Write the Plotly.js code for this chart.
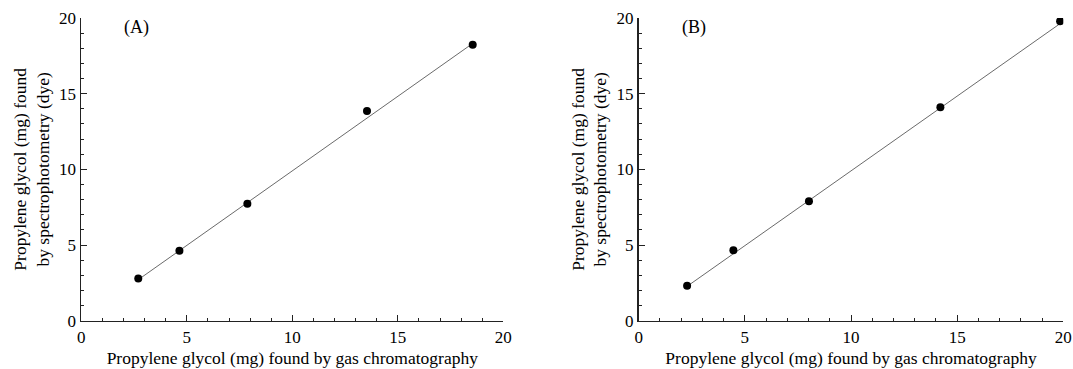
<!DOCTYPE html>
<html>
<head>
<meta charset="utf-8">
<script src="https://cdn.plot.ly/plotly-3.0.1.min.js"></script>
<style>
html,body{margin:0;padding:0;background:#fff;}
#chart{width:1073px;height:369px;}
</style>
</head>
<body>
<div id="chart"></div>
<script>
// Panel A data (gas chromatography vs spectrophotometry)
var xA = [2.70, 4.65, 7.87, 13.54, 18.55];
var yA = [2.79, 4.62, 7.72, 13.86, 18.24];
// Panel A regression line endpoints
var fitAx = [2.70, 18.55];
var fitAy = [2.71, 18.32];
// Panel B data
var xB = [2.28, 4.46, 8.02, 14.21, 19.85];
var yB = [2.31, 4.66, 7.90, 14.10, 19.79];
var fitBx = [2.28, 19.85];
var fitBy = [2.27, 19.63];

var panelLabels = ["(A)", "(B)"];
var equations = ["Y = 0.985X + 0.053    (r = 0.999)", "Y = 0.988X + 0.017    (r = 0.999)"];
var xTitle = "Propylene glycol (mg) found by gas chromatography";
var yTitle = "Propylene glycol (mg) found<br>by spectrophotometry (dye)";
var tickVals = [0, 5, 10, 15, 20];
var tickText = ["0", "5", "10", "15", "20"];

var FONT = "Liberation Serif";

function lineTrace(x, y, xa, ya) {
  return {x: x, y: y, xaxis: xa, yaxis: ya, type: 'scatter', mode: 'lines',
    line: {color: '#444', width: 0.8}, hoverinfo: 'skip', showlegend: false};
}
function ptTrace(x, y, xa, ya) {
  return {x: x, y: y, xaxis: xa, yaxis: ya, type: 'scatter', mode: 'markers',
    marker: {color: '#000', size: 8}, showlegend: false};
}

var data = [
  lineTrace(fitAx, fitAy, 'x', 'y'),
  ptTrace(xA, yA, 'x', 'y'),
  lineTrace(fitBx, fitBy, 'x2', 'y2'),
  ptTrace(xB, yB, 'x2', 'y2')
];

function xaxis(domain, anchor) {
  return {
    domain: domain, anchor: anchor, range: [0, 20],
    tickvals: tickVals, ticktext: tickText,
    ticks: 'inside', ticklen: 6, tickwidth: 1, tickcolor: '#222',
    minor: {dtick: 1, ticks: 'inside', ticklen: 3, tickwidth: 1, tickcolor: '#222', showgrid: false},
    showline: true, linecolor: '#222', linewidth: 1.5, mirror: false,
    showgrid: false, zeroline: false,
    tickfont: {family: FONT, size: 17, color: '#000'},
    title: {text: xTitle, font: {family: FONT, size: 17.5, color: '#000'}, standoff: 6},
    automargin: false
  };
}
function yaxis(domain, anchor) {
  return {
    domain: domain, anchor: anchor, range: [0, 20],
    tickvals: tickVals, ticktext: tickText,
    ticks: 'inside', ticklen: 6, tickwidth: 1, tickcolor: '#222',
    minor: {dtick: 1, ticks: 'inside', ticklen: 3, tickwidth: 1, tickcolor: '#222', showgrid: false},
    showline: true, linecolor: '#222', linewidth: 1.8, mirror: false,
    showgrid: false, zeroline: false,
    tickfont: {family: FONT, size: 17, color: '#000'},
    title: {text: yTitle, font: {family: FONT, size: 17.5, color: '#000'}, standoff: 5},
    automargin: false
  };
}

var yDom = [1 - 320.7 / 369, 1 - 18 / 369];
var layout = {
  width: 1073, height: 369,
  margin: {l: 0, r: 0, t: 0, b: 0},
  paper_bgcolor: '#fff', plot_bgcolor: '#fff',
  showlegend: false,
  font: {family: FONT},
  xaxis: xaxis([81.3 / 1073, 503.3 / 1073], 'y'),
  yaxis: yaxis(yDom, 'x'),
  xaxis2: xaxis([638.7 / 1073, 1063.3 / 1073], 'y2'),
  yaxis2: yaxis(yDom, 'x2'),
  annotations: [
    {xref: 'x', yref: 'y', x: 2.6, y: 19.4, text: panelLabels[0], showarrow: false,
      font: {family: FONT, size: 18, color: '#000'}},
    {xref: 'x2', yref: 'y2', x: 2.6, y: 19.4, text: panelLabels[1], showarrow: false,
      font: {family: FONT, size: 18, color: '#000'}},
    {xref: 'x', yref: 'y', x: 20.2, y: 3.8, xanchor: 'right', text: equations[0], showarrow: false,
      font: {family: FONT, size: 17, color: '#000'}},
    {xref: 'x2', yref: 'y2', x: 20.2, y: 3.8, xanchor: 'right', text: equations[1], showarrow: false,
      font: {family: FONT, size: 17, color: '#000'}}
  ]
};

Plotly.newPlot('chart', data, layout, {staticPlot: true, displayModeBar: false});
</script>
</body>
</html>
